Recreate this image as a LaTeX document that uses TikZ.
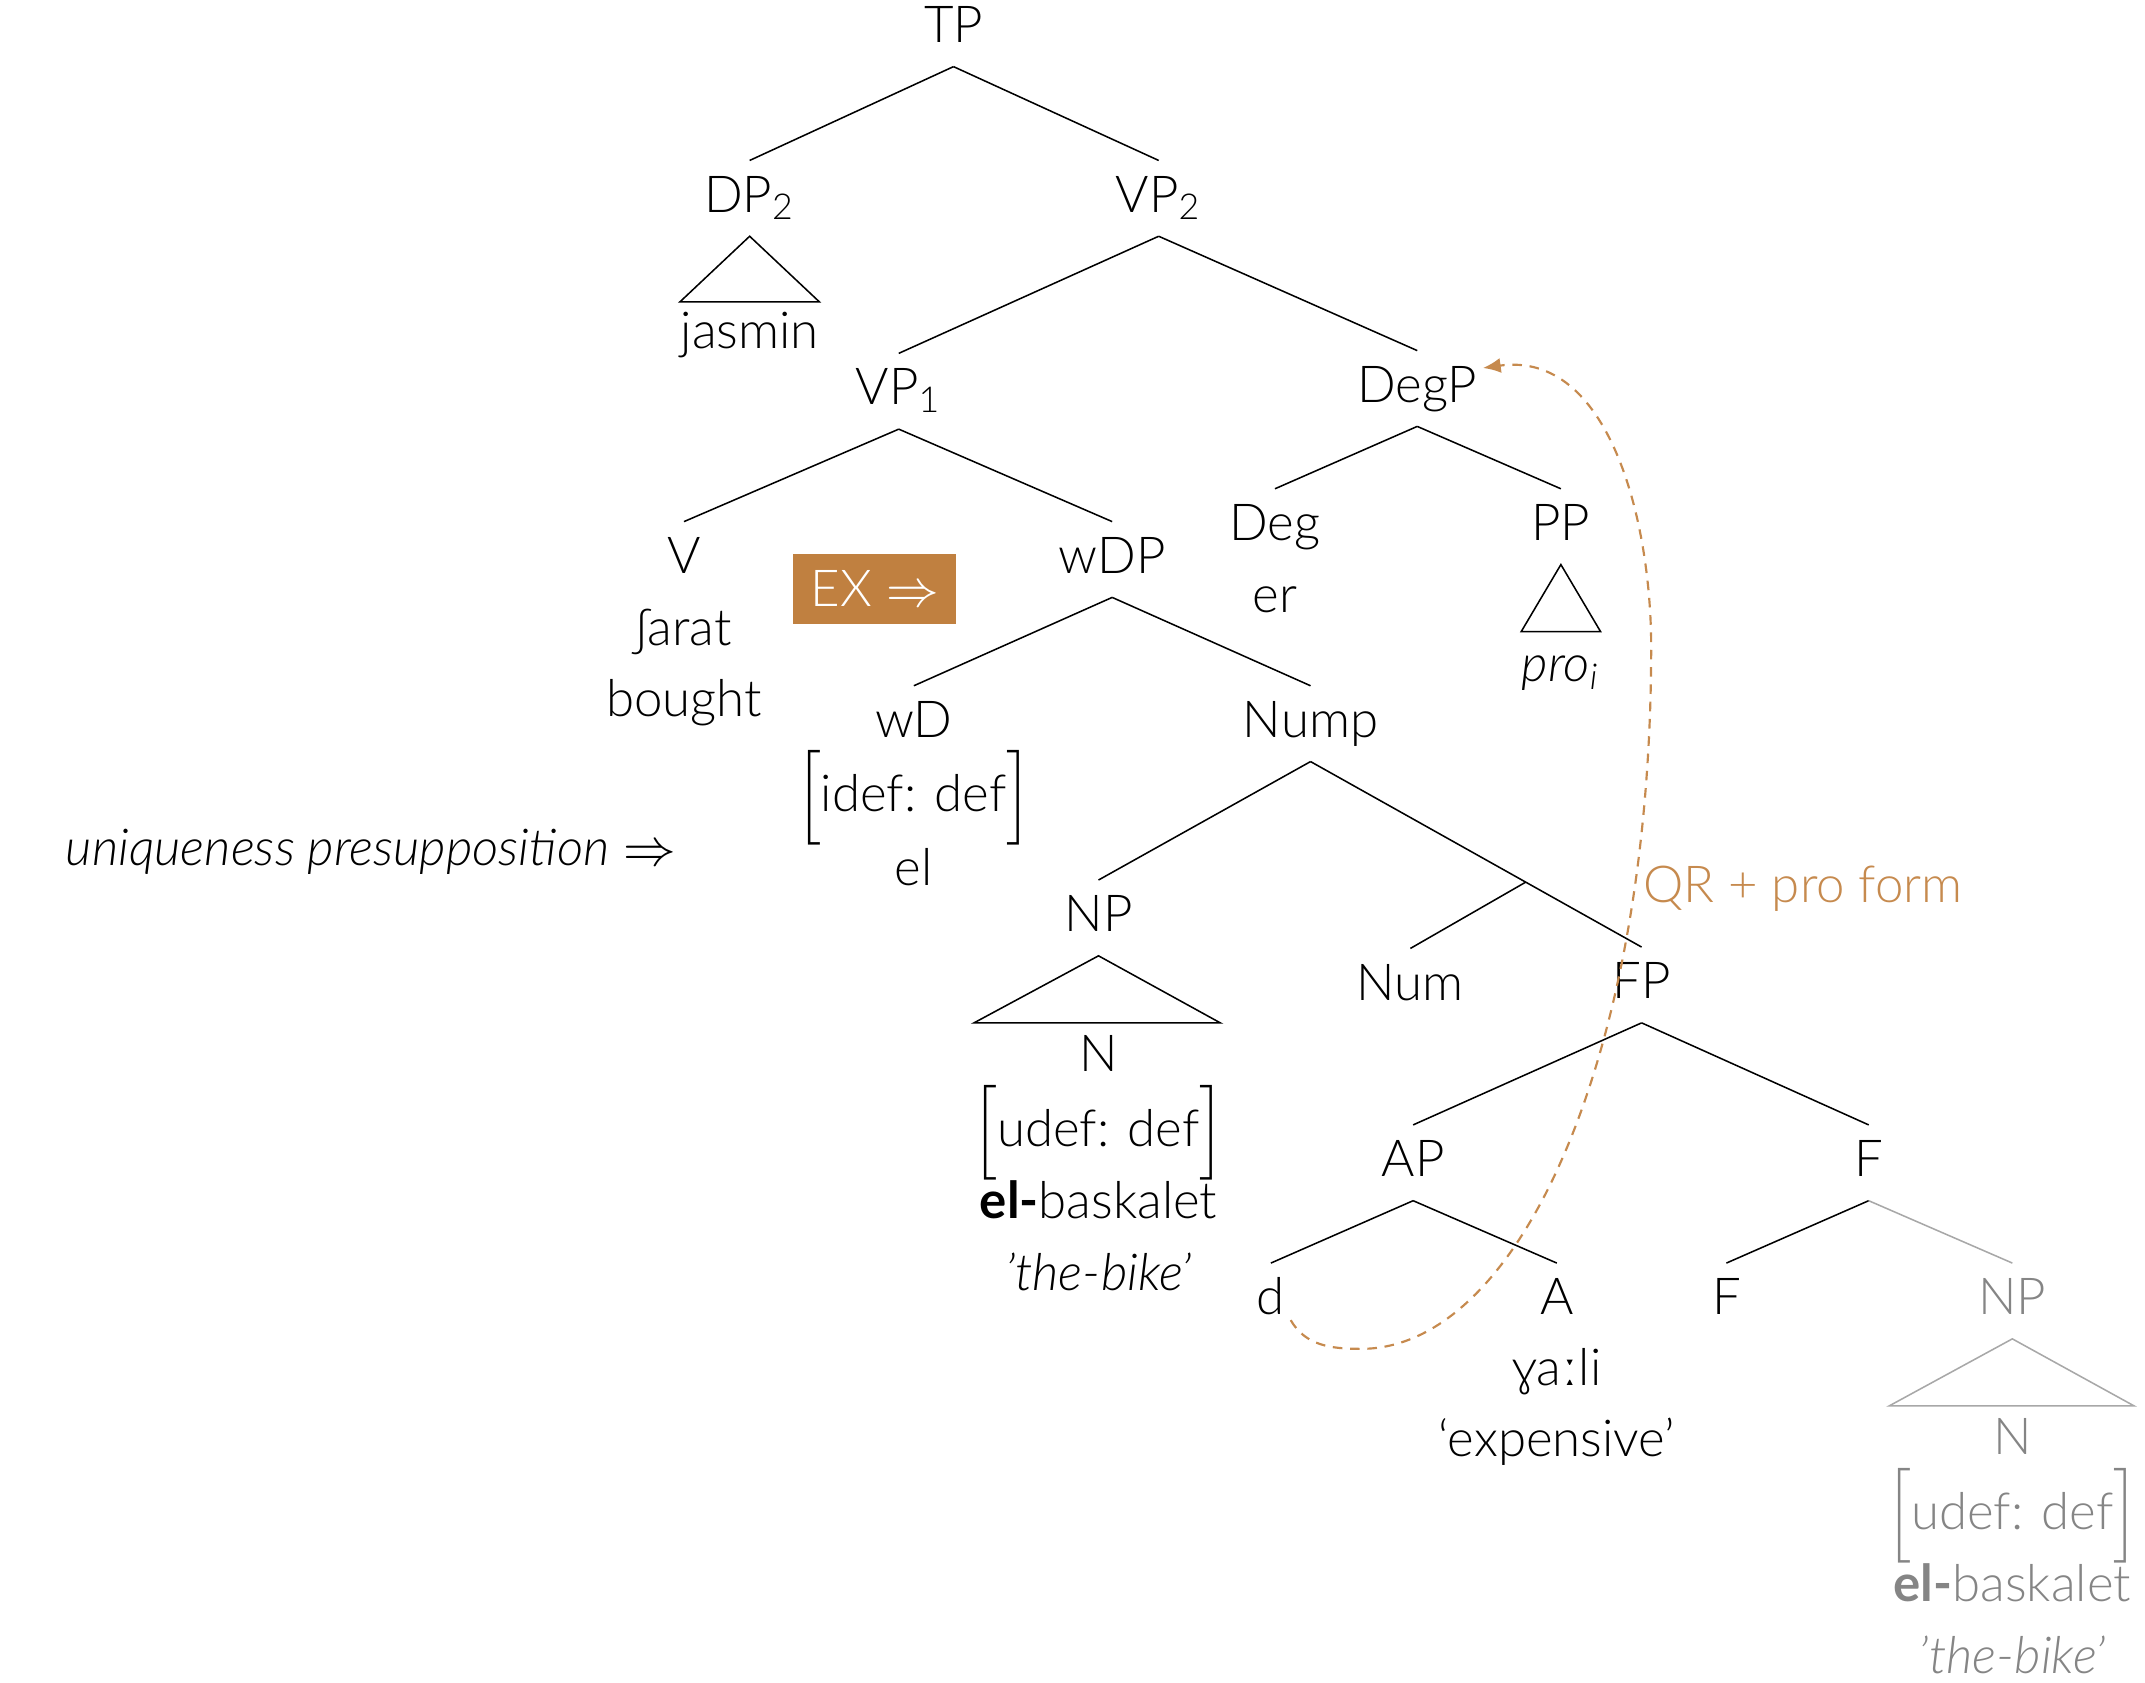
\documentclass[tikz,border=0pt]{standalone}
\usepackage{amsmath}
\usepackage{fontspec}
\setmainfont{Lato}[UprightFont=*-Light, ItalicFont=*-LightItalic, BoldFont=*-Bold, Extension=.ttf]
\usepackage{tikz}
\usetikzlibrary{arrows.meta, calc}
\definecolor{exorange}{HTML}{C08040}
\definecolor{qrorange}{HTML}{C68A4E}
\definecolor{lowgrey}{HTML}{858585}
\definecolor{linegrey}{HTML}{A8A8A8}
\tikzset{
  lab/.style={inner xsep=1pt, inner ysep=0.09cm, text height=0.28cm, text depth=0.08cm, font=\fontsize{10.6}{12}\selectfont},
  branch/.style={line width=0.32pt},
  exbox/.style={fill=exorange, text=white, minimum width=1.19cm, minimum height=0.51cm, inner sep=0pt, font=\fontsize{10.6}{12}\selectfont},
  qrline/.style={qrorange, line width=0.45pt, dash pattern=on 2pt off 1.6pt, -{Latex[length=1.3mm,width=1.1mm]}},
}
\begin{document}
\begin{tikzpicture}
  \useasboundingbox (0,0.03) rectangle (15.68,-12.27);

  % upper part of the tree
  \node[lab] (tp) at (6.97,-0.18) {TP};
  \node[lab] (dp) at (5.48,-1.42) {DP\textsubscript{2}};
  \node[lab] (jasmin) at (5.48,-2.42) {jasmin};
  \node[lab] (vp2) at (8.47,-1.42) {VP\textsubscript{2}};
  \node[lab] (vp1) at (6.57,-2.83) {VP\textsubscript{1}};
  \node[lab] (degp) at (10.36,-2.81) {DegP};
  \node[lab] (deg) at (9.32,-3.82) {Deg};
  \node[lab] (er) at (9.32,-4.35) {er};
  \node[lab] (pp) at (11.41,-3.82) {PP};
  \node[lab] (pro) at (11.41,-4.85) {\textit{pro}\textsubscript{\textit{i}}};
  \node[lab] (v) at (5.00,-4.06) {V};
  \node[lab] (sarat) at (5.00,-4.59) {ʃarat};
  \node[lab] (bought) at (5.00,-5.11) {bought};
  \node[exbox] (ex) at (6.395,-4.275) {EX $\Rightarrow$};

  \draw[branch] (tp.south) -- (dp.north);
  \draw[branch] (tp.south) -- (vp2.north);
  \draw[branch] (dp.south) -- ++(-0.51,-0.48) -- ++(1.02,0) -- cycle;
  \draw[branch] (vp2.south) -- (vp1.north);
  \draw[branch] (vp2.south) -- (degp.north);
  \draw[branch] (vp1.south) -- (v.north);
  \draw[branch] (degp.south) -- (deg.north);
  \draw[branch] (degp.south) -- (pp.north);
  \draw[branch] (pp.south) -- ++(-0.29,-0.49) -- ++(0.58,0) -- cycle;

  % the weak DP
  \node[lab] (wdp) at (8.13,-4.06) {wDP};
  \node[lab] (wd) at (6.68,-5.26) {wD};
  \node[lab] (idef) at (6.68,-5.80) {$\Bigl[$idef: def$\Bigr]$};
  \node[lab] (el) at (6.68,-6.34) {el};
  \node[lab] (nump) at (9.58,-5.26) {Nump};
  \node[lab] (np) at (8.03,-6.68) {NP};
  \node[lab] (n) at (8.03,-7.70) {N};
  \node[lab] (udef) at (8.03,-8.25) {$\Bigl[$udef: def$\Bigr]$};
  \node[lab] (baskalet) at (8.03,-8.78) {\textbf{el-}baskalet};
  \node[lab] (bike) at (8.03,-9.30) {\textit{’the-bike’}};
  \node[lab] (num) at (10.31,-7.18) {Num};
  \node[lab] (fp) at (12.00,-7.17) {FP};
  \node[lab] (uniq) at (2.71,-6.20) {\textit{uniqueness presupposition} $\Rightarrow$};

  \draw[branch] (vp1.south) -- (wdp.north);
  \draw[branch] (wdp.south) -- (wd.north);
  \draw[branch] (wdp.south) -- (nump.north);
  \draw[branch] (nump.south) -- (np.north);
  \draw[branch] (np.south) -- ++(-0.91,-0.49) -- ++(1.80,0) -- cycle;
  \draw[branch] (nump.south) -- (fp.north);
  \coordinate (numjoin) at ($(nump.south)!0.65!(fp.north)$);
  \draw[branch] (numjoin) -- (num.north);

  % FP and below
  \node[lab] (ap) at (10.33,-8.47) {AP};
  \node[lab] (f) at (13.66,-8.47) {F};
  \node[lab] (d) at (9.29,-9.48) {d};
  \node[lab] (a) at (11.38,-9.48) {A};
  \node[lab] (yali) at (11.38,-10.00) {ɣaːli};
  \node[lab] (expensive) at (11.38,-10.52) {‘expensive’};
  \node[lab] (flow) at (12.62,-9.48) {F};
  \node[lab, text=lowgrey] (npg) at (14.71,-9.48) {NP};
  \node[lab, text=lowgrey] (ng) at (14.71,-10.50) {N};
  \node[lab, text=lowgrey] (udefg) at (14.71,-11.05) {$\Bigl[$udef: def$\Bigr]$};
  \node[lab, text=lowgrey] (baskaletg) at (14.71,-11.58) {\textbf{el-}baskalet};
  \node[lab, text=lowgrey] (bikeg) at (14.71,-12.10) {\textit{’the-bike’}};

  \draw[branch] (fp.south) -- (ap.north);
  \draw[branch] (fp.south) -- (f.north);
  \draw[branch] (ap.south) -- (d.north);
  \draw[branch] (ap.south) -- (a.north);
  \draw[branch] (f.south) -- (flow.north);
  \draw[branch, linegrey] (f.south) -- (npg.north);
  \draw[branch, linegrey] (npg.south) -- ++(-0.90,-0.49) -- ++(1.79,0) -- cycle;

  % QR movement
  \node[lab, text=qrorange] (qr) at (13.18,-6.47) {QR + pro form};
  \coordinate (qrlow) at (9.95,-9.83);
  \coordinate (qrturn) at (12.07,-4.70);
  \draw[qrline] ([yshift=-0.14cm]d.east) to[out=-60, in=180] (qrlow)
    .. controls +(1.15,0) and +(0,-3.0) .. (qrturn)
    to[out=90, in=8] ([yshift=0.15cm]degp.east);
\end{tikzpicture}
\end{document}
